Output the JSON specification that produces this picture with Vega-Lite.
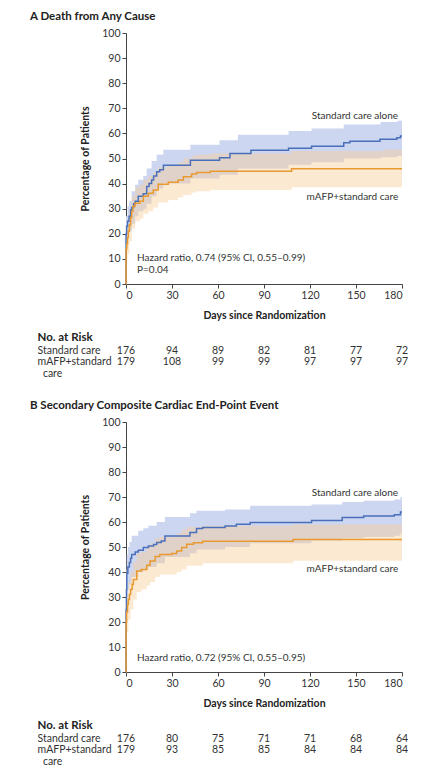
{
  "$schema": "https://vega.github.io/schema/vega-lite/v6.json",
  "background": "white",
  "padding": {"left": 30, "top": 10, "right": 5, "bottom": 5},
  "config": {
    "font": "Lato",
    "view": {"stroke": null},
    "axis": {"labelFont": "Lato", "labelFontSize": 10.5, "labelColor": "#333333", "titleFont": "Lato", "titleFontSize": 10.5, "titleFontWeight": "bold", "titleColor": "#222222", "domainColor": "#444444", "tickColor": "#444444", "grid": false, "labelOverlap": false},
    "title": {"font": "Lato", "fontSize": 11.5, "fontWeight": "bold", "color": "#222222", "anchor": "start"},
    "text": {"font": "Lato", "fontSize": 10, "color": "#333333"}
  },
  "datasets": {
    "kmA": [
      {"series": "Standard care alone", "day": 0, "pct": 0},
      {"series": "Standard care alone", "day": 0.05, "pct": 20},
      {"series": "Standard care alone", "day": 0.4, "pct": 23},
      {"series": "Standard care alone", "day": 1, "pct": 25},
      {"series": "Standard care alone", "day": 2, "pct": 27},
      {"series": "Standard care alone", "day": 3, "pct": 29.5},
      {"series": "Standard care alone", "day": 3.7, "pct": 30.5},
      {"series": "Standard care alone", "day": 5, "pct": 32},
      {"series": "Standard care alone", "day": 6, "pct": 33},
      {"series": "Standard care alone", "day": 8, "pct": 35},
      {"series": "Standard care alone", "day": 11.3, "pct": 36},
      {"series": "Standard care alone", "day": 13.5, "pct": 38.8},
      {"series": "Standard care alone", "day": 15, "pct": 40},
      {"series": "Standard care alone", "day": 16.7, "pct": 41.4},
      {"series": "Standard care alone", "day": 18, "pct": 43},
      {"series": "Standard care alone", "day": 20, "pct": 44.7},
      {"series": "Standard care alone", "day": 22, "pct": 45.5},
      {"series": "Standard care alone", "day": 24.4, "pct": 47.3},
      {"series": "Standard care alone", "day": 42, "pct": 49.3},
      {"series": "Standard care alone", "day": 61, "pct": 50.3},
      {"series": "Standard care alone", "day": 67.8, "pct": 52},
      {"series": "Standard care alone", "day": 81.5, "pct": 53.3},
      {"series": "Standard care alone", "day": 106, "pct": 54.1},
      {"series": "Standard care alone", "day": 121, "pct": 54.9},
      {"series": "Standard care alone", "day": 142, "pct": 56.3},
      {"series": "Standard care alone", "day": 146, "pct": 56.9},
      {"series": "Standard care alone", "day": 165.6, "pct": 57.7},
      {"series": "Standard care alone", "day": 176.6, "pct": 58.3},
      {"series": "Standard care alone", "day": 179, "pct": 59},
      {"series": "Standard care alone", "day": 180, "pct": 59},
      {"series": "mAFP+standard care", "day": 0, "pct": 0},
      {"series": "mAFP+standard care", "day": 0.05, "pct": 14},
      {"series": "mAFP+standard care", "day": 0.5, "pct": 16},
      {"series": "mAFP+standard care", "day": 1, "pct": 18.5},
      {"series": "mAFP+standard care", "day": 1.5, "pct": 21},
      {"series": "mAFP+standard care", "day": 2.2, "pct": 23.5},
      {"series": "mAFP+standard care", "day": 3, "pct": 26.5},
      {"series": "mAFP+standard care", "day": 3.7, "pct": 29},
      {"series": "mAFP+standard care", "day": 4.5, "pct": 31},
      {"series": "mAFP+standard care", "day": 5.9, "pct": 32.2},
      {"series": "mAFP+standard care", "day": 9, "pct": 33},
      {"series": "mAFP+standard care", "day": 11.3, "pct": 35},
      {"series": "mAFP+standard care", "day": 14.6, "pct": 36.2},
      {"series": "mAFP+standard care", "day": 17.8, "pct": 37.5},
      {"series": "mAFP+standard care", "day": 21, "pct": 39.7},
      {"series": "mAFP+standard care", "day": 27.6, "pct": 40.5},
      {"series": "mAFP+standard care", "day": 34, "pct": 41.4},
      {"series": "mAFP+standard care", "day": 37.4, "pct": 42.7},
      {"series": "mAFP+standard care", "day": 42.8, "pct": 43.8},
      {"series": "mAFP+standard care", "day": 46, "pct": 44.4},
      {"series": "mAFP+standard care", "day": 55, "pct": 44.9},
      {"series": "mAFP+standard care", "day": 108, "pct": 45.9},
      {"series": "mAFP+standard care", "day": 180, "pct": 45.9}
    ],
    "bandA": [
      {"series": "Standard care alone", "day": 0, "lo": 14, "hi": 27},
      {"series": "Standard care alone", "day": 1, "lo": 19, "hi": 31},
      {"series": "Standard care alone", "day": 2, "lo": 21, "hi": 33},
      {"series": "Standard care alone", "day": 3.7, "lo": 24, "hi": 37},
      {"series": "Standard care alone", "day": 6, "lo": 27, "hi": 39.5},
      {"series": "Standard care alone", "day": 8, "lo": 29, "hi": 41.5},
      {"series": "Standard care alone", "day": 11.3, "lo": 30, "hi": 43},
      {"series": "Standard care alone", "day": 13.5, "lo": 32, "hi": 46},
      {"series": "Standard care alone", "day": 16.7, "lo": 35, "hi": 49},
      {"series": "Standard care alone", "day": 20, "lo": 38, "hi": 51.5},
      {"series": "Standard care alone", "day": 24.4, "lo": 40, "hi": 53.5},
      {"series": "Standard care alone", "day": 42, "lo": 42, "hi": 55.5},
      {"series": "Standard care alone", "day": 61, "lo": 43.5, "hi": 57.3},
      {"series": "Standard care alone", "day": 73, "lo": 46, "hi": 59.5},
      {"series": "Standard care alone", "day": 106, "lo": 47.5, "hi": 61},
      {"series": "Standard care alone", "day": 121, "lo": 48.5, "hi": 62},
      {"series": "Standard care alone", "day": 142, "lo": 50, "hi": 63.5},
      {"series": "Standard care alone", "day": 166, "lo": 50.5, "hi": 64.5},
      {"series": "Standard care alone", "day": 177, "lo": 51, "hi": 65},
      {"series": "Standard care alone", "day": 180, "lo": 51, "hi": 65},
      {"series": "mAFP+standard care", "day": 0, "lo": 9, "hi": 19},
      {"series": "mAFP+standard care", "day": 1, "lo": 12, "hi": 24},
      {"series": "mAFP+standard care", "day": 2.2, "lo": 17, "hi": 29.5},
      {"series": "mAFP+standard care", "day": 3.7, "lo": 22, "hi": 35},
      {"series": "mAFP+standard care", "day": 5.9, "lo": 25, "hi": 38.5},
      {"series": "mAFP+standard care", "day": 9, "lo": 26, "hi": 39.5},
      {"series": "mAFP+standard care", "day": 11.3, "lo": 28, "hi": 41.5},
      {"series": "mAFP+standard care", "day": 14.6, "lo": 29, "hi": 43},
      {"series": "mAFP+standard care", "day": 17.8, "lo": 30.5, "hi": 44.5},
      {"series": "mAFP+standard care", "day": 21, "lo": 32.5, "hi": 46.5},
      {"series": "mAFP+standard care", "day": 27.6, "lo": 33.5, "hi": 47.5},
      {"series": "mAFP+standard care", "day": 34, "lo": 34.5, "hi": 48.5},
      {"series": "mAFP+standard care", "day": 37.4, "lo": 35.5, "hi": 50},
      {"series": "mAFP+standard care", "day": 42.8, "lo": 36.5, "hi": 51},
      {"series": "mAFP+standard care", "day": 46, "lo": 37, "hi": 51.5},
      {"series": "mAFP+standard care", "day": 55, "lo": 37.5, "hi": 52},
      {"series": "mAFP+standard care", "day": 108, "lo": 38.5, "hi": 53},
      {"series": "mAFP+standard care", "day": 168, "lo": 38.5, "hi": 53.5},
      {"series": "mAFP+standard care", "day": 180, "lo": 38.5, "hi": 53.5}
    ],
    "kmB": [
      {"series": "Standard care alone", "day": 0, "pct": 0},
      {"series": "Standard care alone", "day": 0.05, "pct": 25},
      {"series": "Standard care alone", "day": 0.3, "pct": 33},
      {"series": "Standard care alone", "day": 0.5, "pct": 39.5},
      {"series": "Standard care alone", "day": 1.2, "pct": 42},
      {"series": "Standard care alone", "day": 2.2, "pct": 43.8},
      {"series": "Standard care alone", "day": 3, "pct": 45.5},
      {"series": "Standard care alone", "day": 3.7, "pct": 47},
      {"series": "Standard care alone", "day": 6, "pct": 48},
      {"series": "Standard care alone", "day": 8, "pct": 48.7},
      {"series": "Standard care alone", "day": 11.3, "pct": 49.8},
      {"series": "Standard care alone", "day": 14.6, "pct": 50.4},
      {"series": "Standard care alone", "day": 18, "pct": 51},
      {"series": "Standard care alone", "day": 20, "pct": 51.8},
      {"series": "Standard care alone", "day": 23, "pct": 52.4},
      {"series": "Standard care alone", "day": 25.4, "pct": 54.4},
      {"series": "Standard care alone", "day": 41.7, "pct": 55.8},
      {"series": "Standard care alone", "day": 46, "pct": 57.4},
      {"series": "Standard care alone", "day": 50, "pct": 57.8},
      {"series": "Standard care alone", "day": 64.6, "pct": 58.4},
      {"series": "Standard care alone", "day": 72, "pct": 59.1},
      {"series": "Standard care alone", "day": 81, "pct": 59.8},
      {"series": "Standard care alone", "day": 121, "pct": 60.6},
      {"series": "Standard care alone", "day": 141, "pct": 61.8},
      {"series": "Standard care alone", "day": 155, "pct": 62.4},
      {"series": "Standard care alone", "day": 175, "pct": 62.9},
      {"series": "Standard care alone", "day": 179, "pct": 64},
      {"series": "Standard care alone", "day": 180, "pct": 64},
      {"series": "mAFP+standard care", "day": 0, "pct": 0},
      {"series": "mAFP+standard care", "day": 0.05, "pct": 20},
      {"series": "mAFP+standard care", "day": 0.4, "pct": 24},
      {"series": "mAFP+standard care", "day": 1, "pct": 27},
      {"series": "mAFP+standard care", "day": 1.5, "pct": 29},
      {"series": "mAFP+standard care", "day": 2.2, "pct": 31},
      {"series": "mAFP+standard care", "day": 3, "pct": 33},
      {"series": "mAFP+standard care", "day": 4, "pct": 35},
      {"series": "mAFP+standard care", "day": 4.8, "pct": 37},
      {"series": "mAFP+standard care", "day": 7, "pct": 40.4},
      {"series": "mAFP+standard care", "day": 10, "pct": 41},
      {"series": "mAFP+standard care", "day": 13.5, "pct": 42.7},
      {"series": "mAFP+standard care", "day": 15.7, "pct": 44.4},
      {"series": "mAFP+standard care", "day": 19, "pct": 46.2},
      {"series": "mAFP+standard care", "day": 22, "pct": 47},
      {"series": "mAFP+standard care", "day": 29.8, "pct": 47.4},
      {"series": "mAFP+standard care", "day": 33, "pct": 48.4},
      {"series": "mAFP+standard care", "day": 36.3, "pct": 49.8},
      {"series": "mAFP+standard care", "day": 39.6, "pct": 51.1},
      {"series": "mAFP+standard care", "day": 44, "pct": 51.7},
      {"series": "mAFP+standard care", "day": 50, "pct": 52.3},
      {"series": "mAFP+standard care", "day": 109, "pct": 53},
      {"series": "mAFP+standard care", "day": 180, "pct": 53}
    ],
    "bandB": [
      {"series": "Standard care alone", "day": 0, "lo": 17, "hi": 33},
      {"series": "Standard care alone", "day": 0.3, "lo": 24, "hi": 41},
      {"series": "Standard care alone", "day": 0.5, "lo": 30, "hi": 47},
      {"series": "Standard care alone", "day": 1.2, "lo": 33, "hi": 50},
      {"series": "Standard care alone", "day": 2.2, "lo": 35, "hi": 52},
      {"series": "Standard care alone", "day": 3.7, "lo": 38, "hi": 54.5},
      {"series": "Standard care alone", "day": 8, "lo": 40, "hi": 56.5},
      {"series": "Standard care alone", "day": 11.3, "lo": 41, "hi": 57.5},
      {"series": "Standard care alone", "day": 14.6, "lo": 42, "hi": 58.5},
      {"series": "Standard care alone", "day": 20, "lo": 43.5, "hi": 60},
      {"series": "Standard care alone", "day": 25.4, "lo": 46, "hi": 62},
      {"series": "Standard care alone", "day": 41.7, "lo": 47.5, "hi": 63.5},
      {"series": "Standard care alone", "day": 46, "lo": 49, "hi": 64.5},
      {"series": "Standard care alone", "day": 64.6, "lo": 50, "hi": 65},
      {"series": "Standard care alone", "day": 81, "lo": 51.5, "hi": 66.5},
      {"series": "Standard care alone", "day": 121, "lo": 52.5, "hi": 67},
      {"series": "Standard care alone", "day": 141, "lo": 53.5, "hi": 68},
      {"series": "Standard care alone", "day": 155, "lo": 54, "hi": 68.5},
      {"series": "Standard care alone", "day": 175, "lo": 54.5, "hi": 69},
      {"series": "Standard care alone", "day": 179, "lo": 55.5, "hi": 70},
      {"series": "Standard care alone", "day": 180, "lo": 55.5, "hi": 70},
      {"series": "mAFP+standard care", "day": 0, "lo": 13, "hi": 27},
      {"series": "mAFP+standard care", "day": 0.4, "lo": 16, "hi": 31},
      {"series": "mAFP+standard care", "day": 1.5, "lo": 21, "hi": 36},
      {"series": "mAFP+standard care", "day": 3, "lo": 25, "hi": 40},
      {"series": "mAFP+standard care", "day": 4.8, "lo": 29, "hi": 44},
      {"series": "mAFP+standard care", "day": 7, "lo": 32, "hi": 47.5},
      {"series": "mAFP+standard care", "day": 10, "lo": 33, "hi": 48},
      {"series": "mAFP+standard care", "day": 13.5, "lo": 34.5, "hi": 50},
      {"series": "mAFP+standard care", "day": 15.7, "lo": 36, "hi": 51.5},
      {"series": "mAFP+standard care", "day": 19, "lo": 38, "hi": 53.5},
      {"series": "mAFP+standard care", "day": 22, "lo": 39, "hi": 54},
      {"series": "mAFP+standard care", "day": 33, "lo": 40, "hi": 55.5},
      {"series": "mAFP+standard care", "day": 36.3, "lo": 41, "hi": 57},
      {"series": "mAFP+standard care", "day": 39.6, "lo": 42.5, "hi": 58},
      {"series": "mAFP+standard care", "day": 50, "lo": 43.5, "hi": 58.5},
      {"series": "mAFP+standard care", "day": 109, "lo": 44.5, "hi": 59},
      {"series": "mAFP+standard care", "day": 180, "lo": 44.5, "hi": 59}
    ],
    "riskA": [
      {"row": "Standard care", "day": 0, "n": 176},
      {"row": "Standard care", "day": 30, "n": 94},
      {"row": "Standard care", "day": 60, "n": 89},
      {"row": "Standard care", "day": 90, "n": 82},
      {"row": "Standard care", "day": 120, "n": 81},
      {"row": "Standard care", "day": 150, "n": 77},
      {"row": "Standard care", "day": 180, "n": 72},
      {"row": "mAFP+standard care", "day": 0, "n": 179},
      {"row": "mAFP+standard care", "day": 30, "n": 108},
      {"row": "mAFP+standard care", "day": 60, "n": 99},
      {"row": "mAFP+standard care", "day": 90, "n": 99},
      {"row": "mAFP+standard care", "day": 120, "n": 97},
      {"row": "mAFP+standard care", "day": 150, "n": 97},
      {"row": "mAFP+standard care", "day": 180, "n": 97}
    ],
    "riskB": [
      {"row": "Standard care", "day": 0, "n": 176},
      {"row": "Standard care", "day": 30, "n": 80},
      {"row": "Standard care", "day": 60, "n": 75},
      {"row": "Standard care", "day": 90, "n": 71},
      {"row": "Standard care", "day": 120, "n": 71},
      {"row": "Standard care", "day": 150, "n": 68},
      {"row": "Standard care", "day": 180, "n": 64},
      {"row": "mAFP+standard care", "day": 0, "n": 179},
      {"row": "mAFP+standard care", "day": 30, "n": 93},
      {"row": "mAFP+standard care", "day": 60, "n": 85},
      {"row": "mAFP+standard care", "day": 90, "n": 85},
      {"row": "mAFP+standard care", "day": 120, "n": 84},
      {"row": "mAFP+standard care", "day": 150, "n": 84},
      {"row": "mAFP+standard care", "day": 180, "n": 84}
    ],
    "notesA": [
      {"key": "std", "note": "Standard care alone"},
      {"key": "mafp", "note": "mAFP+standard care"},
      {"key": "hr", "note": "Hazard ratio, 0.74 (95% CI, 0.55–0.99)\nP=0.04"}
    ],
    "notesB": [
      {"key": "std", "note": "Standard care alone"},
      {"key": "mafp", "note": "mAFP+standard care"},
      {"key": "hr", "note": "Hazard ratio, 0.72 (95% CI, 0.55–0.95)"}
    ]
  },
  "spacing": 20,
  "vconcat": [
    {
      "title": {"text": "A  Death from Any Cause", "dx": -7, "offset": 6},
      "spacing": 8,
      "vconcat": [
        {
          "width": 276,
          "height": 251,
          "layer": [
            {"data": {"name": "bandA"}, "transform": [{"filter": "datum.series == 'Standard care alone'"}], "mark": {"type": "area", "interpolate": "step-after", "color": "#cdd6f0", "opacity": 1},
             "encoding": {
               "x": {"field": "day", "type": "quantitative", "scale": {"domain": [0, 180], "nice": false}, "axis": {"values": [0, 30, 60, 90, 120, 150, 180], "tickSize": 4, "labelPadding": 2, "title": "Days since Randomization", "titlePadding": 10}},
               "y": {"field": "lo", "type": "quantitative", "scale": {"domain": [0, 100], "nice": false}, "axis": {"values": [0, 10, 20, 30, 40, 50, 60, 70, 80, 90, 100], "tickCount": 11, "labelOverlap": false, "tickSize": 4, "labelPadding": 2, "title": "Percentage of Patients", "titlePadding": 11}}, "y2": {"field": "hi"}}},
            {"data": {"name": "bandA"}, "transform": [{"filter": "datum.series == 'mAFP+standard care'"}], "mark": {"type": "area", "interpolate": "step-after", "color": "#f9cf9a", "opacity": 0.45},
             "encoding": {"x": {"field": "day", "type": "quantitative"}, "y": {"field": "lo", "type": "quantitative"}, "y2": {"field": "hi"}}},
            {"data": {"name": "kmA"}, "transform": [{"filter": "datum.series == 'Standard care alone'"}], "mark": {"type": "line", "interpolate": "step-after", "color": "#4a6fba", "strokeWidth": 1.5},
             "encoding": {"x": {"field": "day", "type": "quantitative"}, "y": {"field": "pct", "type": "quantitative"}}},
            {"data": {"name": "kmA"}, "transform": [{"filter": "datum.series == 'mAFP+standard care'"}], "mark": {"type": "line", "interpolate": "step-after", "color": "#e89a30", "strokeWidth": 1.5},
             "encoding": {"x": {"field": "day", "type": "quantitative"}, "y": {"field": "pct", "type": "quantitative"}}},
            {"data": {"name": "notesA"}, "transform": [{"filter": "datum.key == 'std'"}], "mark": {"type": "text", "align": "right", "baseline": "middle"},
             "encoding": {"x": {"datum": 177.5, "type": "quantitative"}, "y": {"datum": 67, "type": "quantitative"}, "text": {"field": "note", "type": "nominal"}}},
            {"data": {"name": "notesA"}, "transform": [{"filter": "datum.key == 'mafp'"}], "mark": {"type": "text", "align": "right", "baseline": "middle"},
             "encoding": {"x": {"datum": 177.5, "type": "quantitative"}, "y": {"datum": 34.5, "type": "quantitative"}, "text": {"field": "note", "type": "nominal"}}},
            {"data": {"name": "notesA"}, "transform": [{"filter": "datum.key == 'hr'"}], "mark": {"type": "text", "align": "left", "baseline": "top", "lineBreak": "\n", "lineHeight": 12.5},
             "encoding": {"x": {"datum": 7.2, "type": "quantitative"}, "y": {"datum": 12.5, "type": "quantitative"}, "text": {"field": "note", "type": "nominal"}}}
          ]
        },
        {
          "width": 276,
          "height": 33,
          "data": {"name": "riskA"},
          "mark": {"type": "text", "baseline": "top", "fontSize": 10.5},
          "encoding": {
            "x": {"field": "day", "type": "quantitative", "scale": {"domain": [0, 180], "nice": false}, "axis": null},
            "y": {"field": "row", "type": "nominal", "bandPosition": 0, "scale": {"domain": ["No. at Risk", "Standard care", "mAFP+standard care"], "paddingInner": 0, "paddingOuter": 0},
                  "axis": {"title": null, "domain": false, "ticks": false, "tickSize": 0, "bandPosition": 0, "labelAlign": "left", "labelBaseline": "top", "labelPadding": 89, "labelLineHeight": 12,
                           "labelFontWeight": {"condition": {"test": "datum.value == 'No. at Risk'", "value": "bold"}, "value": "normal"},
                           "labelFontSize": {"condition": {"test": "datum.value == 'No. at Risk'", "value": 11.5}, "value": 10.5},
                           "labelColor": {"condition": {"test": "datum.value == 'No. at Risk'", "value": "#222222"}, "value": "#333333"},
                           "labelOffset": {"condition": {"test": "datum.value == 'No. at Risk'", "value": -3}, "value": 0},
                           "labelExpr": "datum.value == 'mAFP+standard care' ? ['mAFP+standard', '\u200b\u00a0\u00a0care'] : datum.value"}},
            "text": {"field": "n", "type": "quantitative"}
          }
        }
      ]
    },
    {
      "title": {"text": "B  Secondary Composite Cardiac End-Point Event", "dx": -7, "offset": 6},
      "spacing": 8,
      "vconcat": [
        {
          "width": 276,
          "height": 250,
          "layer": [
            {"data": {"name": "bandB"}, "transform": [{"filter": "datum.series == 'Standard care alone'"}], "mark": {"type": "area", "interpolate": "step-after", "color": "#cdd6f0", "opacity": 1},
             "encoding": {
               "x": {"field": "day", "type": "quantitative", "scale": {"domain": [0, 180], "nice": false}, "axis": {"values": [0, 30, 60, 90, 120, 150, 180], "tickSize": 4, "labelPadding": 2, "title": "Days since Randomization", "titlePadding": 10}},
               "y": {"field": "lo", "type": "quantitative", "scale": {"domain": [0, 100], "nice": false}, "axis": {"values": [0, 10, 20, 30, 40, 50, 60, 70, 80, 90, 100], "tickCount": 11, "labelOverlap": false, "tickSize": 4, "labelPadding": 2, "title": "Percentage of Patients", "titlePadding": 11}}, "y2": {"field": "hi"}}},
            {"data": {"name": "bandB"}, "transform": [{"filter": "datum.series == 'mAFP+standard care'"}], "mark": {"type": "area", "interpolate": "step-after", "color": "#f9cf9a", "opacity": 0.45},
             "encoding": {"x": {"field": "day", "type": "quantitative"}, "y": {"field": "lo", "type": "quantitative"}, "y2": {"field": "hi"}}},
            {"data": {"name": "kmB"}, "transform": [{"filter": "datum.series == 'Standard care alone'"}], "mark": {"type": "line", "interpolate": "step-after", "color": "#4a6fba", "strokeWidth": 1.5},
             "encoding": {"x": {"field": "day", "type": "quantitative"}, "y": {"field": "pct", "type": "quantitative"}}},
            {"data": {"name": "kmB"}, "transform": [{"filter": "datum.series == 'mAFP+standard care'"}], "mark": {"type": "line", "interpolate": "step-after", "color": "#e89a30", "strokeWidth": 1.5},
             "encoding": {"x": {"field": "day", "type": "quantitative"}, "y": {"field": "pct", "type": "quantitative"}}},
            {"data": {"name": "notesB"}, "transform": [{"filter": "datum.key == 'std'"}], "mark": {"type": "text", "align": "right", "baseline": "middle"},
             "encoding": {"x": {"datum": 177.5, "type": "quantitative"}, "y": {"datum": 71.5, "type": "quantitative"}, "text": {"field": "note", "type": "nominal"}}},
            {"data": {"name": "notesB"}, "transform": [{"filter": "datum.key == 'mafp'"}], "mark": {"type": "text", "align": "right", "baseline": "middle"},
             "encoding": {"x": {"datum": 177.5, "type": "quantitative"}, "y": {"datum": 41.2, "type": "quantitative"}, "text": {"field": "note", "type": "nominal"}}},
            {"data": {"name": "notesB"}, "transform": [{"filter": "datum.key == 'hr'"}], "mark": {"type": "text", "align": "left", "baseline": "middle"},
             "encoding": {"x": {"datum": 7.2, "type": "quantitative"}, "y": {"datum": 5.5, "type": "quantitative"}, "text": {"field": "note", "type": "nominal"}}}
          ]
        },
        {
          "width": 276,
          "height": 33,
          "data": {"name": "riskB"},
          "mark": {"type": "text", "baseline": "top", "fontSize": 10.5},
          "encoding": {
            "x": {"field": "day", "type": "quantitative", "scale": {"domain": [0, 180], "nice": false}, "axis": null},
            "y": {"field": "row", "type": "nominal", "bandPosition": 0, "scale": {"domain": ["No. at Risk", "Standard care", "mAFP+standard care"], "paddingInner": 0, "paddingOuter": 0},
                  "axis": {"title": null, "domain": false, "ticks": false, "tickSize": 0, "bandPosition": 0, "labelAlign": "left", "labelBaseline": "top", "labelPadding": 89, "labelLineHeight": 12,
                           "labelFontWeight": {"condition": {"test": "datum.value == 'No. at Risk'", "value": "bold"}, "value": "normal"},
                           "labelFontSize": {"condition": {"test": "datum.value == 'No. at Risk'", "value": 11.5}, "value": 10.5},
                           "labelColor": {"condition": {"test": "datum.value == 'No. at Risk'", "value": "#222222"}, "value": "#333333"},
                           "labelOffset": {"condition": {"test": "datum.value == 'No. at Risk'", "value": -3}, "value": 0},
                           "labelExpr": "datum.value == 'mAFP+standard care' ? ['mAFP+standard', '\u200b\u00a0\u00a0care'] : datum.value"}},
            "text": {"field": "n", "type": "quantitative"}
          }
        }
      ]
    }
  ]
}
